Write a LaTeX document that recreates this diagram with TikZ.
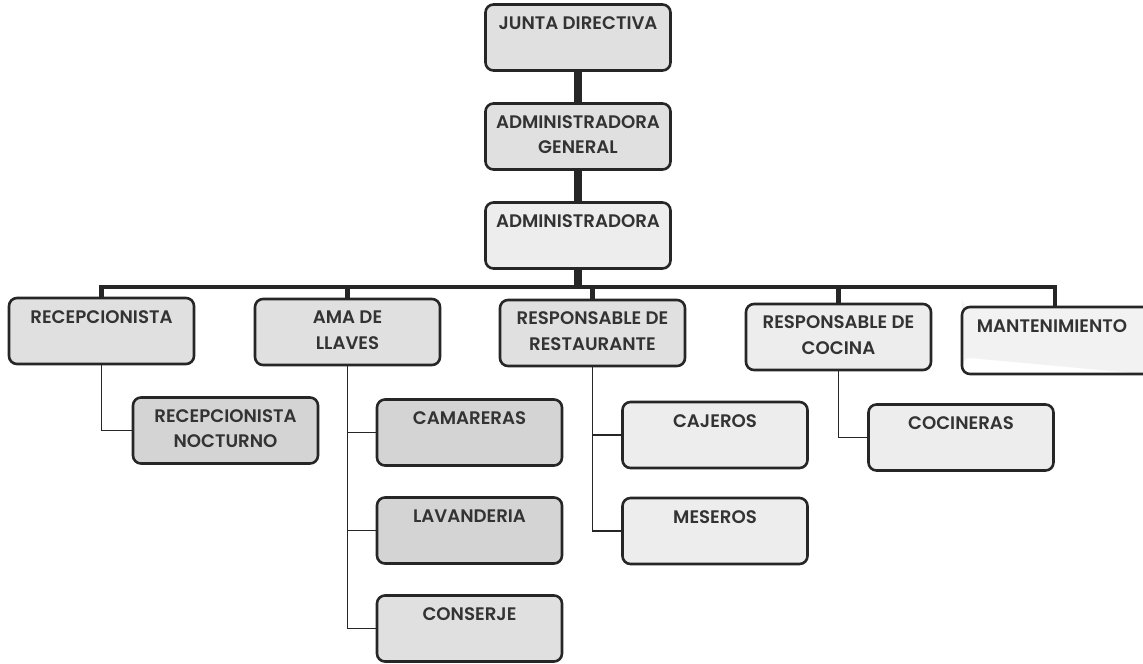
\documentclass[tikz,border=0pt]{standalone}
\usepackage{fontspec}
\setmainfont{Poppins}[UprightFont=* SemiBold]
\usetikzlibrary{positioning}

\begin{document}
\begin{tikzpicture}[
    x=0.03cm,
    y=-0.03cm,
    puesto/.style={draw=black!85, line width=2.2pt, rounded corners=0.24cm,
        minimum width=5.55cm, minimum height=1.98cm, inner sep=0pt,
        text height=0.75cm, text depth=1.23cm, align=center,
        font=\fontsize{15.5}{21.5}\selectfont, text=black!80},
    doble/.style={text height=1.5cm, text depth=0.48cm},
    claro/.style={puesto, fill=gray!14},
    medio/.style={puesto, fill=gray!24},
    oscuro/.style={puesto, fill=gray!34},
    tronco/.style={black!85, line width=6.5pt},
    barra/.style={black!85, line width=4.2pt},
    rama/.style={black!85, line width=1.6pt}
]
    \useasboundingbox (0,0) rectangle (1143,663);
    \node[medio]  (junta)  at (578,37.5)  {JUNTA DIRECTIVA};
    \node[medio, doble]  (admgen) at (578,136.5) {ADMINISTRADORA\\GENERAL};
    \node[claro]  (adm)    at (578,235.5) {ADMINISTRADORA};
    \draw[tronco] (junta) -- (admgen);
    \draw[tronco] (admgen) -- (adm);
    \node[medio]  (recep)  at (101.5,331) {RECEPCIONISTA};
    \node[medio, doble]  (ama)    at (347.5,332) {AMA DE\\LLAVES};
    \node[medio, doble]  (rest)   at (592.5,333) {RESPONSABLE DE\\RESTAURANTE};
    \node[claro, doble]  (cocina) at (838.5,337) {RESPONSABLE DE\\COCINA};
    \fill[gray!10] (1143,307) -- (970,307) arc (90:180:8) -- (962,366)
        arc (180:270:8) -- (1143,374) -- cycle;
    \draw[black!85, line width=2.2pt, rounded corners=0.24cm]
        (1143,307) -- (962,307) -- (962,374) -- (1143,374);
    \node[puesto, draw=none, minimum width=0pt] (mant) at (1052,340.5) {MANTENIMIENTO};
    \coordinate (mantop) at (1055,307);
    \coordinate (cruce) at (578,287);
    \draw[tronco] (adm) -- (cruce);
    \draw[barra] (recep.north) |- (cruce) -| (mantop);
    \draw[barra] (ama.north) -- (ama.north |- cruce);
    \draw[barra] (rest.north) -- (rest.north |- cruce);
    \draw[barra] (cocina.north) -- (cocina.north |- cruce);
    \node[oscuro, doble] (noct)   at (225.5,430.5) {RECEPCIONISTA\\NOCTURNO};
    \node[oscuro] (camar)  at (469.5,432.5) {CAMARERAS};
    \node[oscuro] (lavan)  at (469.5,530.5) {LAVANDERIA};
    \node[medio]  (conser) at (469.5,628.5) {CONSERJE};
    \node[claro]  (cajer)  at (715,435)     {CAJEROS};
    \node[claro]  (meser)  at (715,531)     {MESEROS};
    \node[claro]  (cocin)  at (961,437.5)   {COCINERAS};
    \draw[rama] (recep.south) |- (noct.west);
    \draw[rama] (ama.south) |- (conser.west);
    \draw[rama] (ama.south |- camar.west) -- (camar.west);
    \draw[rama] (ama.south |- lavan.west) -- (lavan.west);
    \draw[rama] (rest.south) |- (meser.west);
    \draw[rama] (rest.south |- cajer.west) -- (cajer.west);
    \draw[rama] (cocina.south) |- (cocin.west);
\end{tikzpicture}
\end{document}
